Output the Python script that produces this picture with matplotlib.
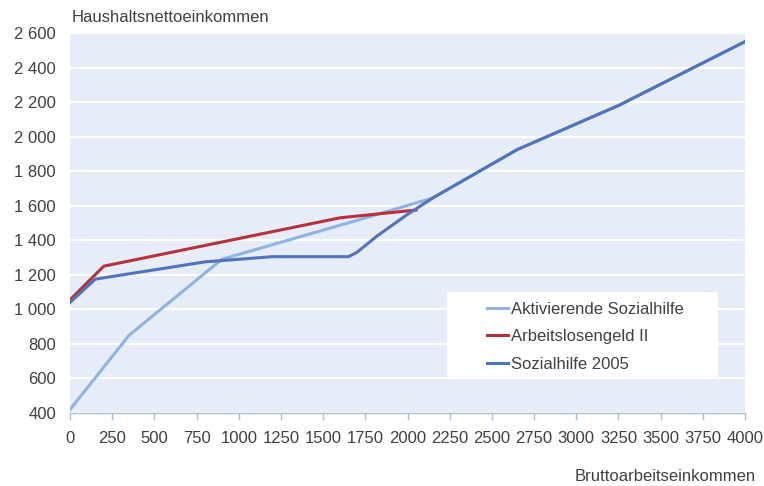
import numpy as np
import matplotlib.pyplot as plt
from matplotlib.patches import Rectangle
from matplotlib.ticker import FuncFormatter, MultipleLocator

plt.rcParams['font.family'] = ['Liberation Sans', 'DejaVu Sans']

seriesNames = ["Aktivierende Sozialhilfe", "Arbeitslosengeld II", "Sozialhilfe 2005"]

aktivX = [0, 350, 900, 1700, 2150, 2650, 3250, 4000]
aktivY = [420, 850, 1290, 1515, 1645, 1925, 2180, 2550]

alg2X = [0, 200, 1600, 2050]
alg2Y = [1055, 1250, 1530, 1575]

sozX = [0, 150, 800, 1200, 1650, 1700, 1820, 2000, 2150, 2650, 3250, 4000]
sozY = [1040, 1175, 1275, 1305, 1305, 1330, 1425, 1550, 1645, 1925, 2180, 2550]

xLabel = "Bruttoarbeitseinkommen"
yLabel = "Haushaltsnettoeinkommen"

textColor = "#404040"
colors = ["#8DB4E2", "#B8303A", "#4F74BE"]
fs = 12

fig = plt.figure(figsize=(7.64, 4.86), dpi=100)
ax = fig.add_axes([70/764, 1-413/486, 675/764, 380/486])
ax.set_facecolor("#E6ECF8")

ax.plot(aktivX, aktivY, color=colors[0], lw=2.2, label=seriesNames[0], zorder=3)
ax.plot(alg2X, alg2Y, color=colors[1], lw=2.2, label=seriesNames[1], zorder=4)
ax.plot(sozX, sozY, color=colors[2], lw=2.2, label=seriesNames[2], zorder=5)

ax.set_xlim(0, 4000)
ax.set_ylim(400, 2600)
ax.xaxis.set_major_locator(MultipleLocator(250))
ax.yaxis.set_major_locator(MultipleLocator(200))
ax.yaxis.set_major_formatter(FuncFormatter(lambda v, p: f"{int(v):,}".replace(",", " ")))

ax.grid(axis='y', color='white', lw=1.6, zorder=1)
ax.set_axisbelow(True)
for side in ['top', 'right', 'left']:
    ax.spines[side].set_visible(False)
ax.spines['bottom'].set_color("#A6BDDF")
ax.spines['bottom'].set_linewidth(1.0)

ax.tick_params(axis='x', colors="#A6BDDF", length=5, width=1.0, pad=8,
               labelcolor=textColor, labelsize=fs)
ax.tick_params(axis='y', length=0, pad=10, labelcolor=textColor, labelsize=fs)

# legend box
ax.add_patch(Rectangle((0.5585, 0.095), 0.4015, 0.223, transform=ax.transAxes,
                       facecolor='white', edgecolor='none', zorder=6))
leg = ax.legend(loc='upper left', bbox_to_anchor=(0.618, 0.293), frameon=False,
                fontsize=fs, handlelength=1.26, handletextpad=0.2,
                labelspacing=0.76, borderpad=0, borderaxespad=0)
leg.set_zorder(7)
for t in leg.get_texts():
    t.set_color(textColor)

fig.text(72/764, 1-17/486, yLabel, fontsize=fs, color=textColor, va='center', ha='left')
fig.text(756/764, 1-476/486, xLabel, fontsize=fs, color=textColor, va='center', ha='right')

plt.savefig('out.png', dpi=100)
